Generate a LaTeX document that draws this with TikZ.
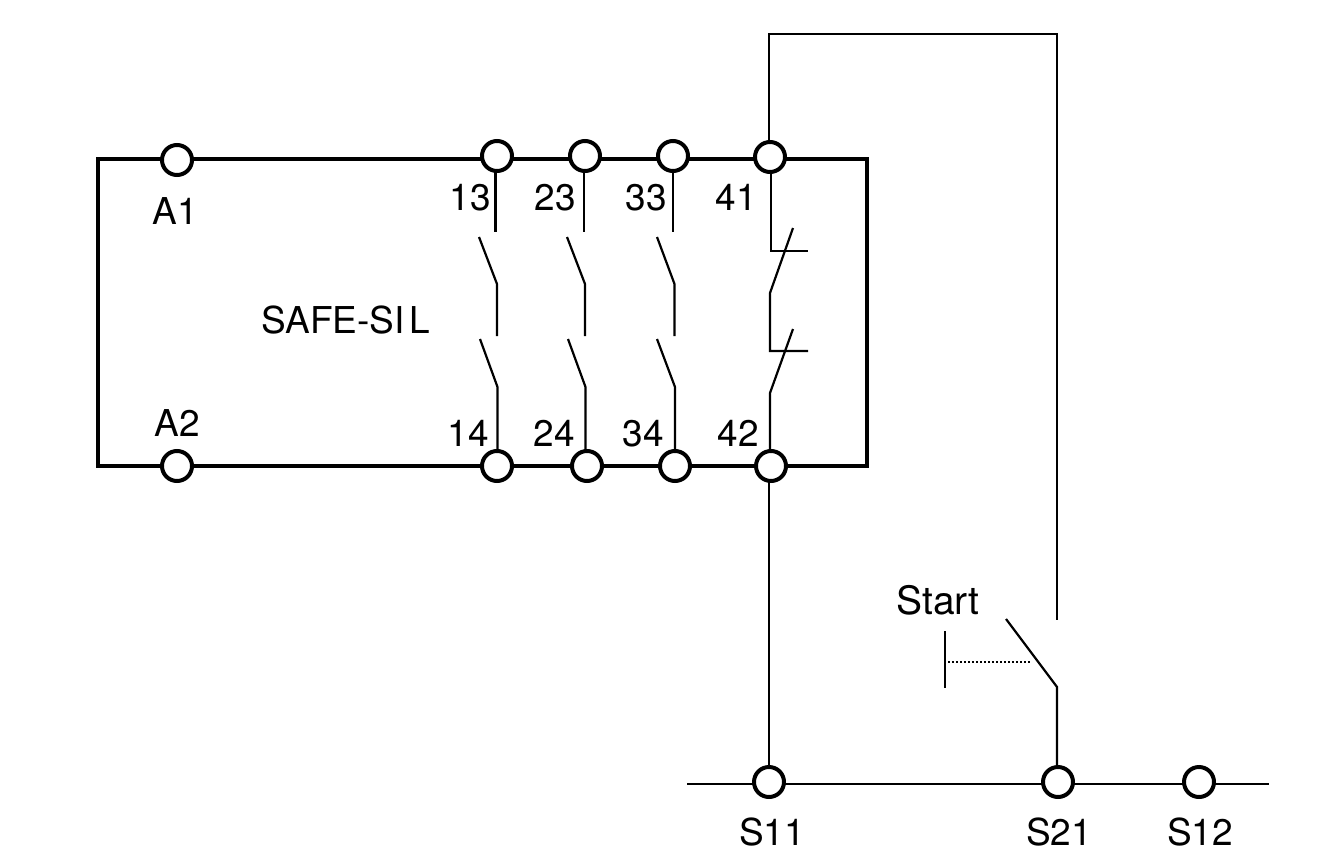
\documentclass[tikz,border=0pt]{standalone}
\usepackage{fontspec}
\setmainfont{TeX Gyre Heros}
\tikzset{
  terminal/.style={circle,draw=black,fill=white,line width=4pt,minimum size=30pt,inner sep=0pt,outer sep=0pt},
  housing/.style={draw=black,line width=4pt,line join=miter},
  wire/.style={draw=black,line width=2.2pt,line join=miter},
  thinwire/.style={draw=black,line width=1.8pt,line join=miter},
  plunger/.style={draw=black,line width=2pt,dotted},
  lbl/.style={inner sep=0pt,outer sep=0pt,anchor=base,font=\fontsize{37pt}{37pt}\selectfont}
}
\begin{document}
\begin{tikzpicture}[x=1pt,y=-1pt]
\useasboundingbox (0,0) rectangle (1328,854);
% housing
\coordinate (bTL) at (98,159);
\coordinate (bBR) at (867,466);
\draw[housing] (bTL) rectangle (bBR);
% bottom bus
\coordinate (busL) at (687,784);
\coordinate (busR) at (1269,784);
\draw[wire] (busL) -- (busR);
% terminals
\node[terminal] (tA1) at (177,160) {};
\node[terminal] (tA2) at (177,466) {};
\node[terminal] (t13) at (497,156) {};
\node[terminal] (t23) at (585,156) {};
\node[terminal] (t33) at (673,156) {};
\node[terminal] (t41) at (770,157) {};
\node[terminal] (t14) at (497,466) {};
\node[terminal] (t24) at (587,466) {};
\node[terminal] (t34) at (675,466) {};
\node[terminal] (t42) at (771,466) {};
\node[terminal] (tS11) at (769,782) {};
\node[terminal] (tS21) at (1058,782) {};
\node[terminal] (tS12) at (1199,782) {};
% NO contacts, upper half
\coordinate (a13) at (495.5,232); \coordinate (a23) at (584,232); \coordinate (a33) at (673,232);
\draw[wire] (t13.south -| a13) -- (a13);
\draw[wire] (t23.south -| a23) -- (a23);
\draw[wire] (t33.south -| a33) -- (a33);
\draw[wire] (479,237) -- (497,284) -- (497,336);
\draw[wire] (567,237) -- (585,284) -- (585,336);
\draw[wire] (657,237) -- (674.5,284) -- (674.5,336);
% NO contacts, lower half
\draw[wire] (480,339) -- (497.5,387) -- (t14.north -| 497.5,0);
\draw[wire] (568,339) -- (585.5,387) -- (t24.north -| 585.5,0);
\draw[wire] (657,339) -- (675,387) -- (t34.north);
% NC contacts
\coordinate (c1) at (771,251);
\draw[wire] (t41.south -| c1) -- (c1) -- (808,251);
\draw[wire] (793,228) -- (770,293) -- (770,351) -- (808,351);
\draw[wire] (793,329) -- (770,393) -- (t42.north -| 770,0);
% outer wiring
\coordinate (w1) at (769,34);
\coordinate (w2) at (1057,34);
\coordinate (w3) at (1057,620);
\draw[thinwire] (t41.north -| w1) -- (w1) -- (w2) -- (w3);
\draw[wire] (t42.south -| tS11) -- (tS11.north);
% start button
\coordinate (sw1) at (1006,619);
\coordinate (sw2) at (1057,687);
\draw[wire] (sw1) -- (sw2) -- (tS21.north -| sw2);
\coordinate (p1) at (945,631);
\coordinate (p2) at (945,688);
\draw[wire] (p1) -- (p2);
\coordinate (d1) at (948,662);
\coordinate (d2) at (1030,662);
\draw[plunger] (d1) -- (d2);
% labels
\node[lbl] (lA1) at (175,224) {A1};
\node[lbl] (lA2) at (177,436) {A2};
\node[lbl] (l13) at (470,210) {13};
\node[lbl] (l23) at (555,210) {23};
\node[lbl] (l33) at (646,210) {33};
\node[lbl] (l41) at (736,210) {41};
\node[lbl] (l14) at (468,446) {14};
\node[lbl] (l24) at (554,446) {24};
\node[lbl] (l34) at (643,446) {34};
\node[lbl] (l42) at (738,446) {42};
\node[lbl] (lsafe) at (346,333) {SAFE-SI\kern5pt L};
\node[lbl,font=\fontsize{39pt}{39pt}\selectfont] (lstart) at (938,614) {Start};
\node[lbl] (lS11) at (772,845) {S11};
\node[lbl] (lS21) at (1059,845) {S21};
\node[lbl] (lS12) at (1200,845) {S12};
\end{tikzpicture}
\end{document}
